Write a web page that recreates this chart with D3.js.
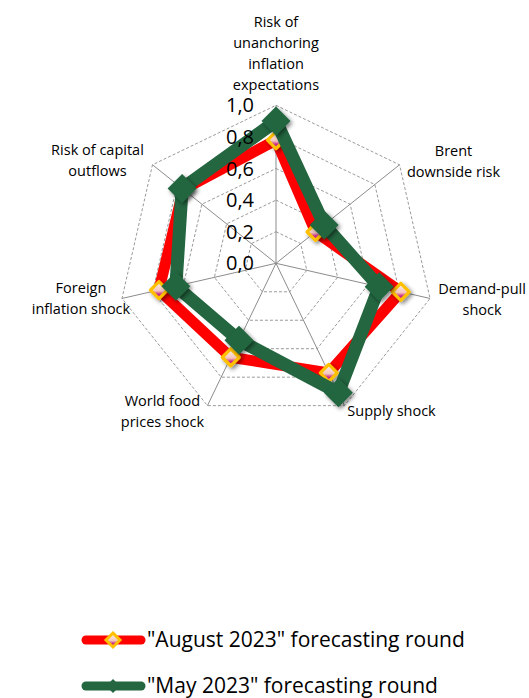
<!DOCTYPE html>
<html>
<head>
<meta charset="utf-8">
<script src="https://cdn.jsdelivr.net/npm/d3@7"></script>
<style>
  html, body { margin: 0; padding: 0; background: #fff; }
  svg { display: block; }
  text { font-family: "Open Sans", "Liberation Sans", sans-serif; fill: #000; }
</style>
</head>
<body>
<svg id="chart" width="529" height="698"></svg>
<script>
// ---- data ----
const categories = [
  ["Risk of", "unanchoring", "inflation", "expectations"],
  ["Brent", "downside risk"],
  ["Demand-pull", "shock"],
  ["Supply shock"],
  ["World food", "prices shock"],
  ["Foreign", "inflation shock"],
  ["Risk of capital", "outflows"]
];
const august2023 = [0.78, 0.32, 0.81, 0.77, 0.66, 0.76, 0.75];
const may2023    = [0.90, 0.39, 0.67, 0.91, 0.54, 0.65, 0.76];
const tickValues = [0, 0.2, 0.4, 0.6, 0.8, 1.0];
const tickLabels = ["0,0", "0,2", "0,4", "0,6", "0,8", "1,0"];
const seriesNames = ["\"August 2023\" forecasting round", "\"May 2023\" forecasting round"];

// ---- layout ----
const svg = d3.select("#chart");
const cx = 276, cy = 263.3;
const r = d3.scaleLinear().domain([0, 1]).range([0, 158]);
const n = categories.length;
const angle = d3.scaleLinear().domain([0, n]).range([0, 2 * Math.PI]);
const pt = (i, v) => [cx + r(v) * Math.sin(angle(i)), cy - r(v) * Math.cos(angle(i))];

const defs = svg.append("defs");
const sh = defs.append("filter").attr("id", "shadow").attr("x", "-50%").attr("y", "-50%").attr("width", "200%").attr("height", "200%");
sh.append("feGaussianBlur").attr("in", "SourceAlpha").attr("stdDeviation", 2.2).attr("result", "b");
sh.append("feOffset").attr("in", "b").attr("dx", 1.5).attr("dy", 2).attr("result", "o");
sh.append("feComponentTransfer").attr("in", "o").attr("result", "o2")
  .append("feFuncA").attr("type", "linear").attr("slope", 0.5);
const m = sh.append("feMerge");
m.append("feMergeNode").attr("in", "o2");
m.append("feMergeNode").attr("in", "SourceGraphic");

const grad = defs.append("linearGradient").attr("id", "augFill").attr("x1", 0).attr("y1", 0).attr("x2", 0).attr("y2", 1);
grad.append("stop").attr("offset", "0%").attr("stop-color", "#fff4ee");
grad.append("stop").attr("offset", "55%").attr("stop-color", "#f4c6bc");
grad.append("stop").attr("offset", "75%").attr("stop-color", "#c8288a");
grad.append("stop").attr("offset", "100%").attr("stop-color", "#c8288a");

// grid rings
const ringVals = tickValues.filter(v => v > 0);
const line = d3.line().curve(d3.curveLinearClosed);
svg.append("g").selectAll("path").data(ringVals).join("path")
  .attr("d", v => line(d3.range(n).map(i => pt(i, v))))
  .attr("fill", "none").attr("stroke", "#9a9a9a").attr("stroke-width", 1)
  .attr("stroke-dasharray", "3,2");

// spokes
svg.append("g").selectAll("line").data(d3.range(n)).join("line")
  .attr("x1", cx).attr("y1", cy)
  .attr("x2", i => pt(i, 1)[0]).attr("y2", i => pt(i, 1)[1])
  .attr("stroke", "#8c8c8c").attr("stroke-width", 1);

// category labels
const labelOffsets = [[0, -83], [54, -14], [52, -9], [47, 5], [-45, -5], [-41, -10], [-55, -15]];
const lh = 21;
svg.append("g").selectAll("text").data(categories).join("text")
  .attr("text-anchor", "middle").attr("font-size", 14.5)
  .each(function (lines, i) {
    const [x, y] = pt(i, 1);
    const t = d3.select(this);
    lines.forEach((s, k) => {
      t.append("tspan").attr("x", x + labelOffsets[i][0])
        .attr("y", y + labelOffsets[i][1] + k * lh + 5).text(s);
    });
  });

// series
const diamond = s => `M0,${-s}L${s},0L0,${s}L${-s},0Z`;
function drawSeries(vals, color, width) {
  svg.append("path")
    .attr("d", line(vals.map((v, i) => pt(i, v))))
    .attr("fill", "none").attr("stroke", color).attr("stroke-width", width)
    .attr("stroke-linejoin", "round");
}
drawSeries(august2023, "#ff0000", 11);
svg.append("g").selectAll("path").data(august2023).join("path")
  .attr("transform", (v, i) => `translate(${pt(i, v)})`)
  .attr("d", diamond(8.5))
  .attr("fill", "url(#augFill)").attr("stroke", "#ffc000").attr("stroke-width", 3.2)
  .attr("stroke-linejoin", "round")
  .attr("filter", "url(#shadow)");

drawSeries(may2023, "#236640", 13);
svg.append("g").selectAll("path").data(may2023).join("path")
  .attr("transform", (v, i) => `translate(${pt(i, v)})`)
  .attr("d", diamond(14.5))
  .attr("fill", "#236640")
  .attr("filter", "url(#shadow)");

// tick labels (drawn above the series, as in the reference)
svg.append("g").selectAll("text").data(tickValues).join("text")
  .attr("x", cx - 22).attr("y", v => cy - r(v) + 7)
  .attr("text-anchor", "end").attr("font-size", 20)
  .text((v, i) => tickLabels[i]);

// legend
const lg = svg.append("g");
const items = [
  { name: seriesNames[0], color: "#ff0000", y: 640 },
  { name: seriesNames[1], color: "#236640", y: 686 }
];
items.forEach((it, k) => {
  lg.append("line").attr("x1", 86).attr("x2", 141).attr("y1", it.y).attr("y2", it.y)
    .attr("stroke", it.color).attr("stroke-width", 9).attr("stroke-linecap", "round");
  if (k === 0) {
    lg.append("path").attr("transform", `translate(113,${it.y})`).attr("d", diamond(7))
      .attr("fill", "url(#augFill)").attr("stroke", "#ffc000").attr("stroke-width", 3);
  } else {
    lg.append("path").attr("transform", `translate(113,${it.y})`).attr("d", diamond(7))
      .attr("fill", it.color);
  }
  lg.append("text").attr("x", 147).attr("y", it.y + 7).attr("font-size", 21).text(it.name);
});
</script>
</body>
</html>
